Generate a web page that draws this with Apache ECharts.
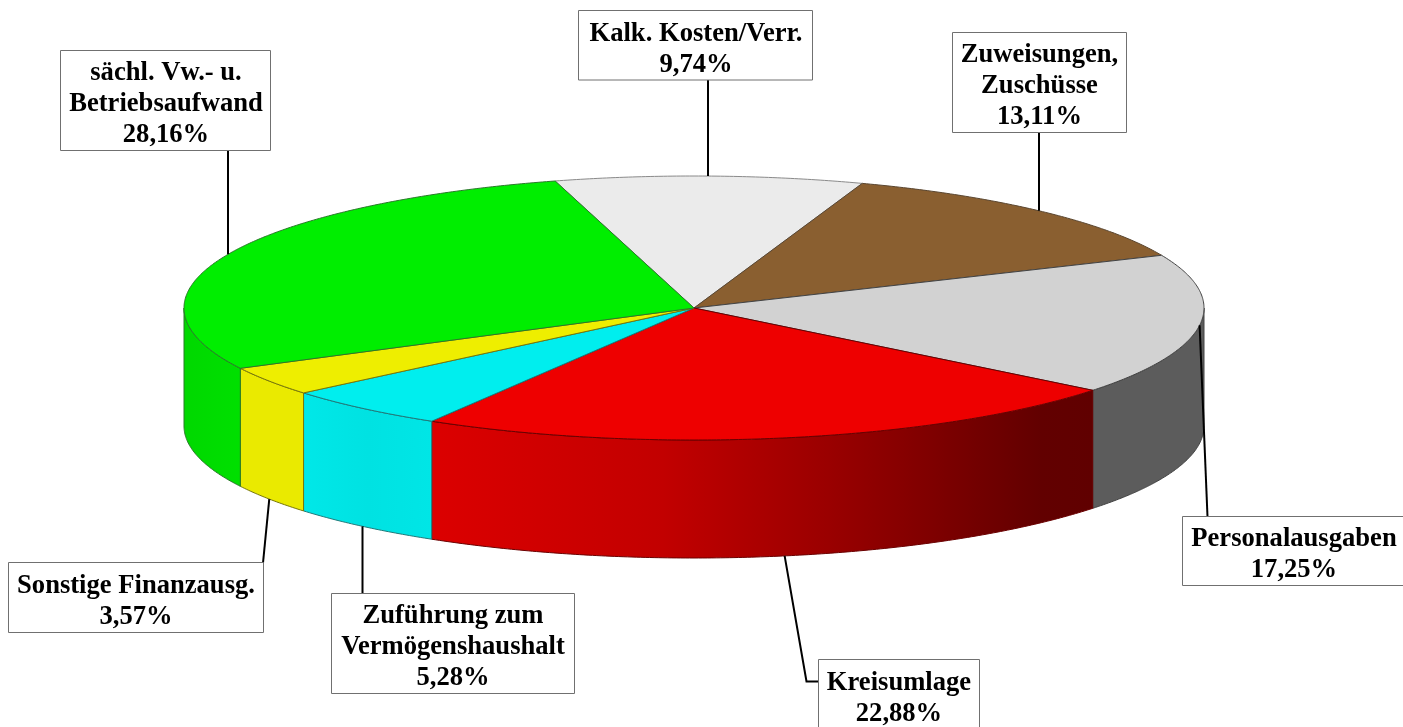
<!DOCTYPE html>
<html>
<head>
<meta charset="utf-8">
<title>Ausgaben</title>
<style>html,body{margin:0;padding:0;background:#fff}#c{width:1403px;height:727px}</style>
<script src="https://cdn.jsdelivr.net/npm/echarts@6/dist/echarts.min.js"></script>
</head>
<body>
<div id="c"></div>
<script>
// Data, clockwise from the back of the pie
var categories = ['Kalk. Kosten/Verr.', 'Zuweisungen,\nZuschüsse', 'Personalausgaben', 'Kreisumlage', 'Zuführung zum\nVermögenshaushalt', 'Sonstige Finanzausg.', 'sächl. Vw.- u.\nBetriebsaufwand'];
var values = [9.74, 13.11, 17.25, 22.88, 5.28, 3.57, 28.16];

// Styles
var topColors = ['#ebebeb', '#8a5f30', '#d2d2d2', '#ee0000', '#00eeee', '#eeee00', '#00ee00'];
var wallStops = [
  null, null,
  [[0, '#5c5c5c'], [1, '#5c5c5c']],
  [[0, '#dc0000'], [0.35, '#c20000'], [0.6, '#9a0000'], [0.92, '#620000'], [1, '#600000']],
  [[0, '#00e8e8'], [0.5, '#00e2e2'], [1, '#00e6e6']],
  [[0, '#eaea00'], [1, '#eaea00']],
  [[0, '#00d800'], [1, '#00e000']]
];
var edgeColors = ['#8a8a8a', '#5a4630', '#444444', '#6a0000', '#1f7a7a', '#77770a', '#2a7a2a'];

// Pie projection
var pie = { cx: 694, cy: 308, rx: 510, ry: 132, depth: 118, startDeg: -15.8 };

// Label boxes: [left, top, width, height, text centre x, leader end x, leader end y, elbow x or null, vertical leader]
var boxes = [
  [578.5, 10.5, 234, 69.5, 696, 708, 80, null, true],
  [952.5, 32.5, 174, 100, 1039.5, 1039, 133, null, true],
  [1182.5, 516.5, 230, 69, 1294, 1207.5, 516.5],
  [818.5, 659.5, 161, 70, 899, 818.5, 681.5, 806.5],
  [331.5, 593.5, 243, 100, 453, 362.5, 594, null, true],
  [8.5, 562.5, 255, 70, 136, 263, 563],
  [60.5, 50.5, 210, 100, 166, 228, 151, null, true]
];

var total = values.reduce(function (a, b) { return a + b; }, 0);
var startAngles = [];
values.reduce(function (acc, v, i) { startAngles[i] = acc; return acc + v / total * 360; }, pie.startDeg);

function pt(deg, dy) {
  var r = deg * Math.PI / 180;
  return [pie.cx + pie.rx * Math.sin(r), pie.cy - pie.ry * Math.cos(r) + (dy || 0)];
}
function arc(a0, a1, dy) {
  var out = [], n = Math.max(2, Math.ceil(Math.abs(a1 - a0) / 0.5));
  for (var k = 0; k <= n; k++) out.push(pt(a0 + (a1 - a0) * k / n, dy));
  return out;
}
function normalize(a) { return ((a % 360) + 360) % 360; }

function renderSlice(params, api) {
  var i = api.value(1), v = api.value(0);
  var a0 = startAngles[i], a1 = a0 + v / total * 360;
  var children = [];
  // visible wall: the part of the rim between 90 and 270 degrees
  var w0 = Math.max(a0, 90), w1 = Math.min(a1, 270);
  if (w1 > w0 && wallStops[i]) {
    var upper = arc(w0, w1, 0), lower = arc(w1, w0, pie.depth);
    children.push({
      type: 'polygon',
      shape: { points: upper.concat(lower) },
      style: {
        fill: new echarts.graphic.LinearGradient(0, 0, 1, 0, wallStops[i].map(function (s) {
          return { offset: s[0], color: s[1] };
        })),
        stroke: edgeColors[i], lineWidth: 1
      },
      silent: true
    });
  }
  children.push({
    type: 'polygon',
    shape: { points: [[pie.cx, pie.cy]].concat(arc(a0, a1, 0)) },
    style: { fill: topColors[i], stroke: edgeColors[i], lineWidth: 1 },
    silent: true
  });
  return { type: 'group', children: children };
}

function pctText(v) { return v.toFixed(2).replace('.', ',') + '%'; }

function renderLabel(params, api) {
  var i = api.value(1), v = api.value(0);
  var b = boxes[i];
  var mid = normalize(startAngles[i] + v / total * 180);
  // front slices are tied to the bottom rim, the others to the top rim
  var front = Math.cos(mid * Math.PI / 180) < -0.3;
  var anchor = pt(mid, front ? pie.depth : 0);
  if (b[8]) {
    // straight vertical leader: meet the rim directly below or above the box
    var ux = (b[5] - pie.cx) / pie.rx;
    var uy = Math.sqrt(Math.max(0, 1 - ux * ux)) * pie.ry;
    anchor = [b[5], front ? pie.cy + uy + pie.depth : pie.cy - uy];
  }
  var line = [anchor];
  if (b[7] != null) line.push([b[7], b[6]]);
  line.push([b[5], b[6]]);
  return {
    type: 'group',
    children: [
      { type: 'polyline', shape: { points: line }, style: { stroke: '#000', lineWidth: 2, fill: null }, silent: true },
      { type: 'rect', shape: { x: b[0], y: b[1], width: b[2], height: b[3] }, style: { fill: '#fff', stroke: '#707070', lineWidth: 1 }, silent: true },
      {
        type: 'text',
        x: b[4], y: b[1] + b[3] / 2 + 4,
        style: {
          text: categories[i] + '\n' + pctText(v),
          fontFamily: '"Liberation Serif", serif', fontWeight: 'bold', fontSize: 26.6,
          lineHeight: 31, fill: '#000', align: 'center', verticalAlign: 'middle'
        },
        silent: true
      }
    ]
  };
}

var rows = values.map(function (v, i) { return [v, i]; });
var chart = echarts.init(document.getElementById('c'), null, { renderer: 'canvas' });
chart.setOption({
  backgroundColor: '#ffffff',
  animation: false,
  series: [
    { type: 'custom', coordinateSystem: 'none', data: rows, renderItem: renderSlice, z: 1, silent: true },
    { type: 'custom', coordinateSystem: 'none', data: rows, renderItem: renderLabel, z: 2, silent: true }
  ]
});
</script>
</body>
</html>
